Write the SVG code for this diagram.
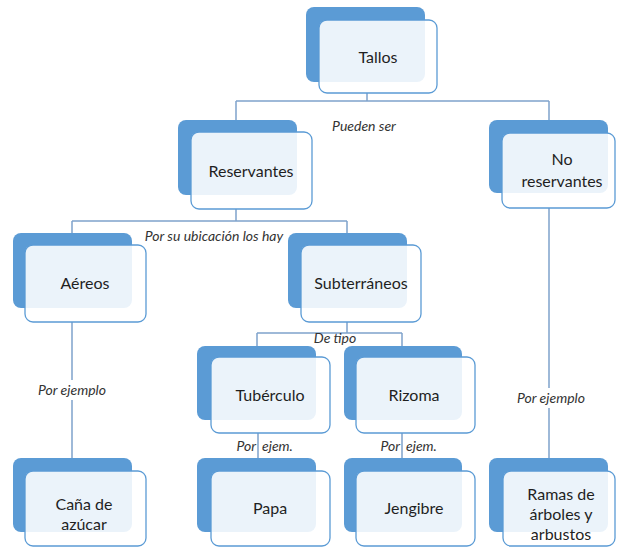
<svg xmlns="http://www.w3.org/2000/svg" width="617" height="547" viewBox="0 0 617 547">
<style>
.back{fill:#5b9bd5;}
.front{fill:#ffffff;fill-opacity:0.88;stroke:#5b9bd5;stroke-width:1.3;}
.t{font-family:Lato,"Open Sans",sans-serif;font-size:16px;fill:#1f1f1f;text-anchor:middle;}
.lbl{font-family:Lato,"Open Sans",sans-serif;font-size:14px;font-style:italic;fill:#333333;text-anchor:middle;}
.ln{stroke:#7fa3cc;stroke-width:1.5;fill:none;}
</style>
<rect width="617" height="547" fill="#ffffff"/>
<g id="connectors">
<path class="ln" d="M367 93V101M236 101H549M236 101V120M549 101V120"/>
<path class="ln" d="M236 209V221M72 221H347M72 221V233M347 221V233"/>
<path class="ln" d="M347 322V333M257 333H402M257 333V346M402 333V346"/>
<path class="ln" d="M72 322V458M549 208V458"/>
<rect x="32" y="380" width="80" height="20" fill="#ffffff"/>
<rect x="512" y="388" width="80" height="20" fill="#ffffff"/>
</g>
<g id="labels">
<text class="lbl" x="364" y="131">Pueden ser</text>
<text class="lbl" x="214" y="241">Por su ubicación los hay</text>
<text class="lbl" x="335" y="343">De tipo</text>
<text class="lbl" x="72" y="395">Por ejemplo</text>
<text class="lbl" x="551" y="403">Por ejemplo</text>
<text class="lbl" x="256" y="451" style="text-anchor:end">Por</text>
<text class="lbl" x="262" y="451" style="text-anchor:start">ejem.</text>
<text class="lbl" x="400" y="451" style="text-anchor:end">Por</text>
<text class="lbl" x="406" y="451" style="text-anchor:start">ejem.</text>
<path class="ln" d="M258 433V458M402 433V458"/>
</g>
<g id="tallos"><rect class="back" x="306" y="7" width="119" height="75" rx="8"/><rect class="front" x="319" y="20" width="118" height="73" rx="8"/><text class="t" x="378" y="63">Tallos</text></g>
<g id="reservantes"><rect class="back" x="178" y="120" width="119" height="75" rx="8"/><rect class="front" x="191" y="132" width="121" height="77" rx="8"/><text class="t" x="251" y="177">Reservantes</text></g>
<g id="no-reservantes"><rect class="back" x="489" y="120" width="119" height="73" rx="8"/><rect class="front" x="502" y="133" width="113" height="75" rx="8"/><text class="t" x="562" y="165">No</text><text class="t" x="562" y="187">reservantes</text></g>
<g id="aereos"><rect class="back" x="13" y="233" width="119" height="75" rx="8"/><rect class="front" x="25" y="245" width="121" height="77" rx="8"/><text class="t" x="85" y="289">Aéreos</text></g>
<g id="subterraneos"><rect class="back" x="288" y="233" width="119" height="75" rx="8"/><rect class="front" x="301" y="245" width="120" height="77" rx="8"/><text class="t" x="361" y="289">Subterráneos</text></g>
<g id="tuberculo"><rect class="back" x="197" y="346" width="119" height="74" rx="8"/><rect class="front" x="211" y="357" width="119" height="76" rx="8"/><text class="t" x="270" y="401">Tubérculo</text></g>
<g id="rizoma"><rect class="back" x="344" y="346" width="118" height="74" rx="8"/><rect class="front" x="356" y="357" width="119" height="76" rx="8"/><text class="t" x="414" y="401">Rizoma</text></g>
<g id="cana"><rect class="back" x="13" y="458" width="119" height="74" rx="8"/><rect class="front" x="25" y="471" width="121" height="75" rx="8"/><text class="t" x="84" y="510">Caña de</text><text class="t" x="84" y="530">azúcar</text></g>
<g id="papa"><rect class="back" x="197" y="458" width="119" height="74" rx="8"/><rect class="front" x="211" y="471" width="119" height="75" rx="8"/><text class="t" x="270" y="514">Papa</text></g>
<g id="jengibre"><rect class="back" x="344" y="458" width="118" height="74" rx="8"/><rect class="front" x="356" y="471" width="119" height="75" rx="8"/><text class="t" x="414" y="514">Jengibre</text></g>
<g id="ramas"><rect class="back" x="489" y="458" width="119" height="74" rx="8"/><rect class="front" x="503" y="471" width="112" height="75" rx="8"/><text class="t" x="561" y="500">Ramas de</text><text class="t" x="561" y="520">árboles y</text><text class="t" x="561" y="540">arbustos</text></g>
</svg>
